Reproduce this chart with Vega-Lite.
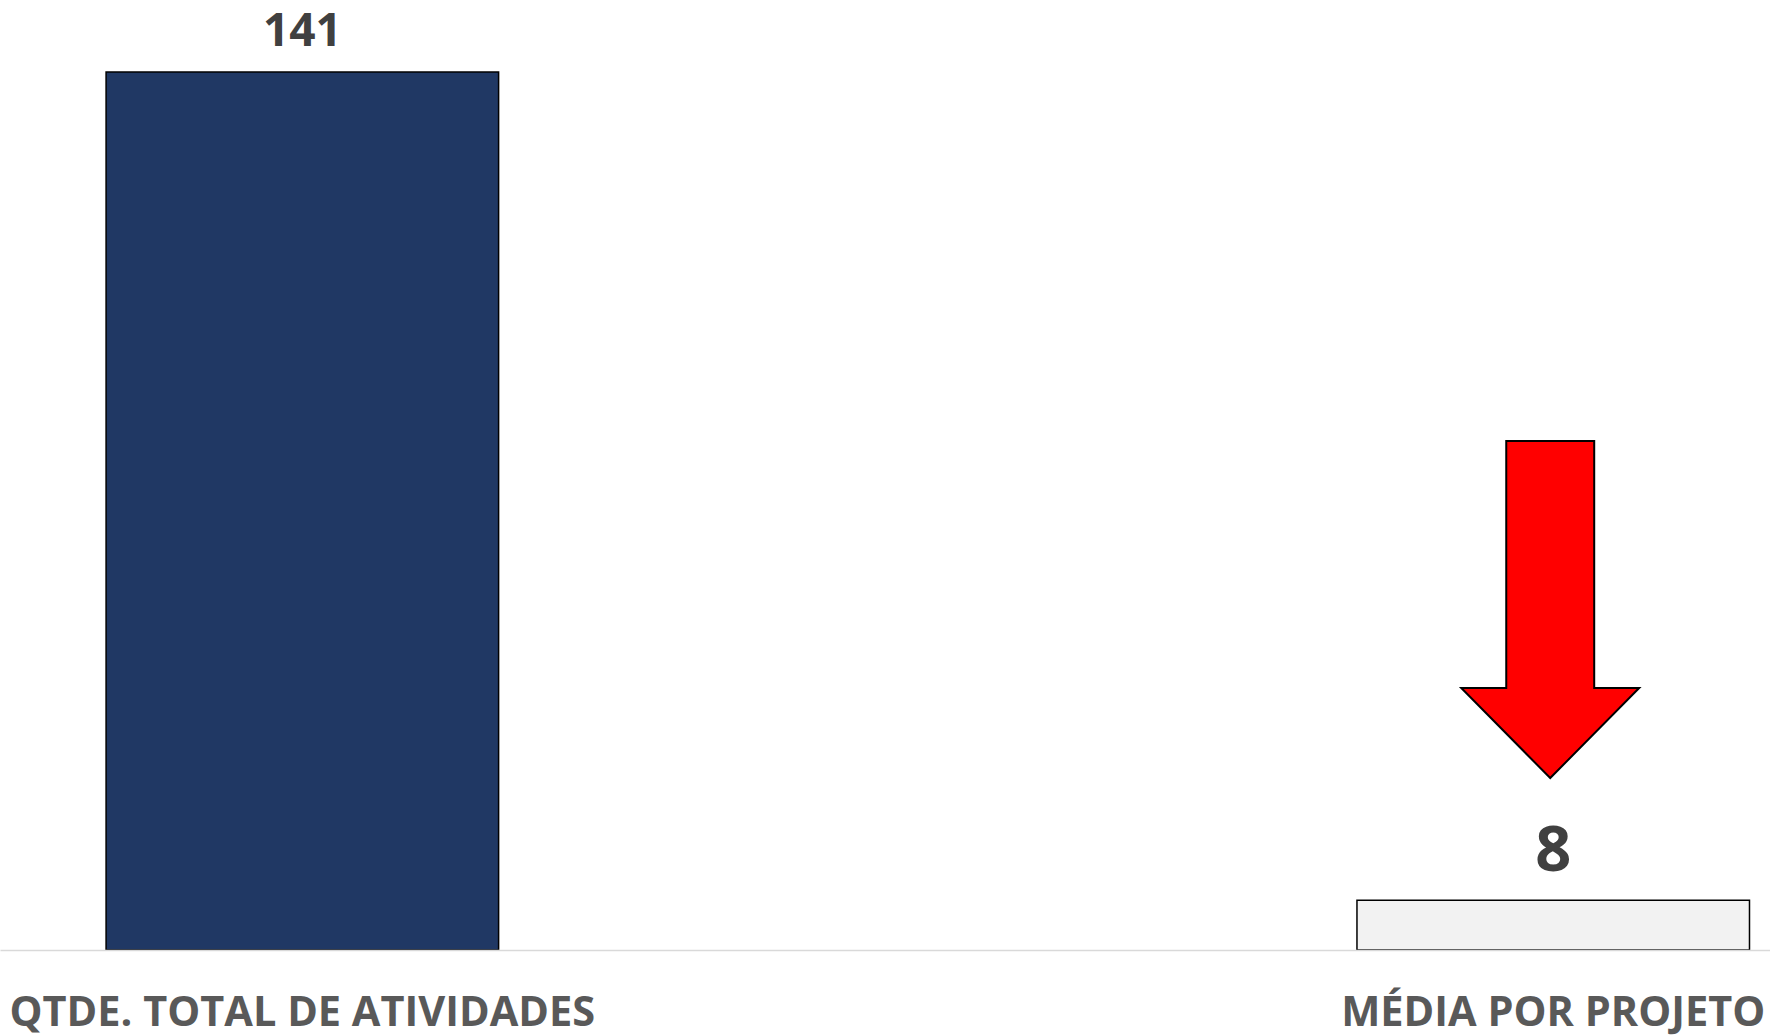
{
  "$schema": "https://vega.github.io/schema/vega-lite/v6.json",
  "width": 1770,
  "height": 950,
  "padding": {"top": 0, "left": 0, "right": 0, "bottom": 85},
  "autosize": {"type": "none"},
  "background": "#ffffff",
  "config": {"view": {"stroke": null}},
  "data": {"values": [
    {"categoria": "QTDE. TOTAL DE ATIVIDADES", "valor": 141},
    {"categoria": "MÉDIA POR PROJETO", "valor": 8}
  ]},
  "encoding": {
    "x": {
      "field": "categoria", "type": "nominal", "sort": null,
      "scale": {"paddingInner": 0.6862, "paddingOuter": 0.0506, "align": 0.838},
      "axis": {
        "title": null, "ticks": false, "tickSize": 0, "labelAngle": 0,
        "labelFont": "Open Sans", "labelFontWeight": "bold", "labelFontSize": 41.5,
        "labelColor": "#595959", "labelPadding": 75, "labelBaseline": "alphabetic",
        "labelLimit": 0, "labelOverlap": false, "labelBound": false, "labelFlush": false,
        "domainColor": "#d9d9d9", "domainWidth": 1.5, "zindex": 1
      }
    }
  },
  "layer": [
    {
      "mark": {"type": "bar", "stroke": "#000000", "strokeWidth": 1.5},
      "encoding": {
        "y": {"field": "valor", "type": "quantitative", "scale": {"domain": [0, 152.57], "nice": false}, "axis": null},
        "color": {"field": "categoria", "type": "nominal", "scale": {"domain": ["QTDE. TOTAL DE ATIVIDADES", "MÉDIA POR PROJETO"], "range": ["#203864", "#f2f2f2"]}, "legend": null}
      }
    },
    {
      "transform": [{"filter": "datum.categoria === 'QTDE. TOTAL DE ATIVIDADES'"}],
      "mark": {"type": "text", "font": "Open Sans", "fontWeight": "bold", "fontSize": 46, "color": "#404040", "baseline": "alphabetic", "dy": -26},
      "encoding": {
        "y": {"field": "valor", "type": "quantitative"},
        "text": {"field": "valor", "type": "quantitative"}
      }
    },
    {
      "transform": [{"filter": "datum.categoria === 'MÉDIA POR PROJETO'"}],
      "mark": {"type": "text", "font": "Open Sans", "fontWeight": "bold", "fontSize": 63, "color": "#404040", "baseline": "alphabetic", "dy": -29},
      "encoding": {
        "y": {"field": "valor", "type": "quantitative"},
        "text": {"field": "valor", "type": "quantitative"}
      }
    },
    {
      "transform": [{"filter": "datum.categoria === 'MÉDIA POR PROJETO'"}],
      "mark": {
        "type": "point", "filled": true, "fill": "#ff0000", "stroke": "#000000", "strokeWidth": 2, "opacity": 1,
        "size": 113569, "xOffset": -3,
        "shape": "M -0.261 -1 L 0.261 -1 L 0.261 0.466 L 0.528 0.466 L 0 1 L -0.528 0.466 L -0.261 0.466 Z"
      },
      "encoding": {
        "y": {"datum": 54.68, "type": "quantitative"}
      }
    }
  ]
}
